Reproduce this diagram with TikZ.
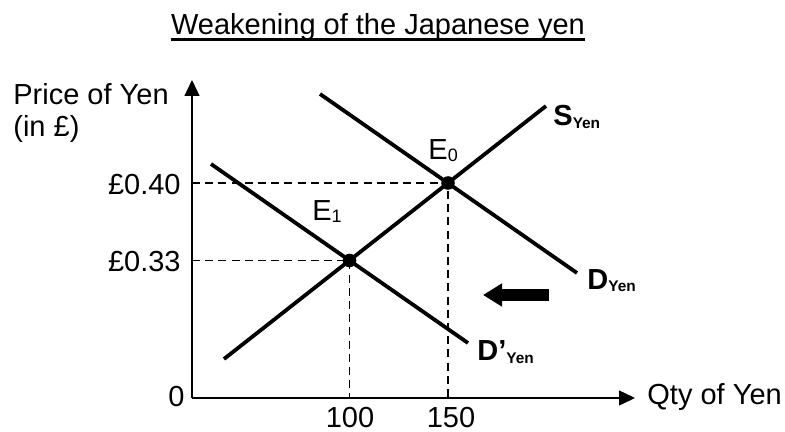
\documentclass[tikz,border=0pt]{standalone}
\usepackage{fontspec}
\setmainfont{Liberation Sans}
\usetikzlibrary{arrows.meta}
\newcommand{\lowsub}[2][1.5pt]{\raisebox{-#1}{\fontsize{7.7pt}{8pt}\selectfont #2}}
\newcommand{\eqsub}[1]{\raisebox{-1pt}{\fontsize{9pt}{9pt}\selectfont #1}}

\begin{document}
\begin{tikzpicture}[x=0.5pt, y=-0.5pt,
    axis/.style={line width=0.7pt, -{Triangle[length=8pt,width=7.5pt]}},
    curve/.style={line width=1.9pt},
    guide/.style={line width=0.7pt, dash pattern=on 4pt off 2.6pt},
    lbl/.style={font=\fontsize{14.5pt}{16pt}\selectfont, inner sep=0pt},
    tag/.style={lbl, font=\fontsize{14.5pt}{16pt}\selectfont\bfseries},
    dot/.style={circle, fill=black, inner sep=0pt, minimum size=6.8pt}
]
\useasboundingbox (0,0) rectangle (785,432);

% title
\node[lbl, anchor=base] (title) at (378,35) {Weakening of the Japanese yen};
\draw[line width=1.3pt] ([yshift=-2.2pt]title.base west) -- ([yshift=-2.2pt]title.base east);

% axes
\coordinate (O) at (192,398);
\coordinate (ytop) at (192,80);
\coordinate (xend) at (635,398);
\draw[axis] (O) -- (ytop);
\draw[axis] (O) -- (xend);

% supply and demand
\coordinate (sLo) at (224,359);
\coordinate (sHi) at (546,106);
\coordinate (dHi) at (320,94);
\coordinate (dLo) at (577,273);
\coordinate (dpHi) at (211,164);
\coordinate (dpLo) at (468,343);
\draw[curve] (sLo) -- (sHi);
\draw[curve] (dHi) -- (dLo);
\draw[curve] (dpHi) -- (dpLo);

% equilibria
\coordinate (E0) at (448,183);
\coordinate (E1) at (349.5,260.5);
\draw[guide] (E0 -| O) -- (E0) -- (E0 |- O);
\draw[guide] (E1 -| O) -- (E1) -- (E1 |- O);
\node[dot] (eq0) at (E0) {};
\node[dot] (eq1) at (E1) {};
\node[lbl, anchor=base west] (e0Lab) at (428,160) {E\eqsub{0}};
\node[lbl, anchor=base west] (e1Lab) at (312,221) {E\eqsub{1}};

% shift of demand
\coordinate (shR) at (549,295);
\coordinate (shL) at (483,295);
\draw[line width=6pt, -{Triangle[length=9.5pt,width=11pt]}] (shR) -- (shL);

% curve labels
\node[tag, anchor=base west] (sLab) at (553,126) {S\lowsub{Yen}};
\node[tag, anchor=base west] (dLab) at (587,289) {D\lowsub{Yen}};
\node[tag, anchor=base west] (dpLab) at (477,360) {D’\lowsub{Yen}};

% axis labels
\node[lbl, anchor=base west, align=left] (ylab) at (13,137) {Price of Yen\\(in £)};
\node[lbl, anchor=west] (xlab) at (647,397) {Qty of Yen};
\node[lbl, anchor=east] (zero) at (185,397) {0};
\node[lbl, anchor=east] (p40) at (181,185) {£0.40};
\node[lbl, anchor=east] (p33) at (181,262) {£0.33};
\node[lbl] (q100) at (350,418) {100};
\node[lbl] (q150) at (451,418) {150};
\end{tikzpicture}
\end{document}
